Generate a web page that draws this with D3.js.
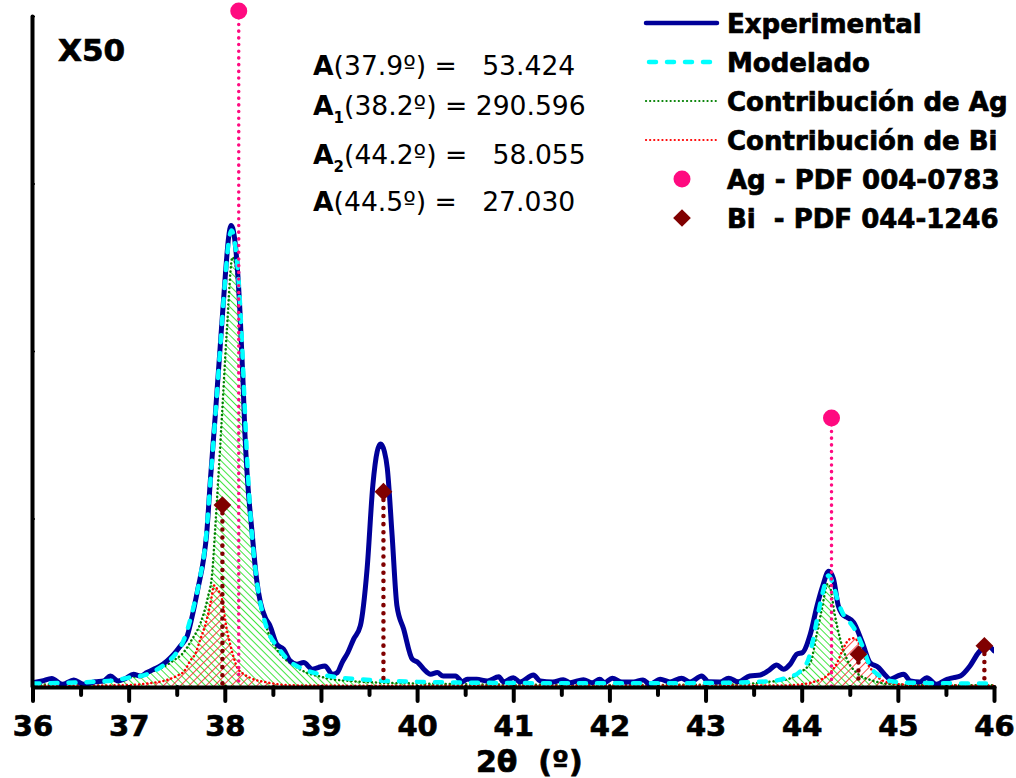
<!DOCTYPE html>
<html><head><meta charset="utf-8">
<script src="https://cdn.jsdelivr.net/npm/d3@7"></script>
<style>
html,body{margin:0;padding:0;background:#fff;}
svg{display:block;}
text{font-family:"DejaVu Sans",Verdana,sans-serif;}
.heavy{stroke:#000;stroke-width:0.7px;}
</style></head><body>
<svg id="chart" width="1016" height="778"></svg>
<script>
// ---- data (2theta in degrees, intensity in arbitrary units, axis 0..400) ----
const experimental = [[36.00,2],[36.10,3],[36.20,4.5],[36.31,1],[36.43,3.6],[36.53,1],[36.65,2.5],[36.74,3],[36.81,6],[36.89,3],[36.97,4.5],[37.05,7],[37.12,6],[37.19,8],[37.26,10],[37.33,12],[37.40,15],[37.47,19],[37.54,24],[37.61,30],[37.67,44],[37.72,58],[37.78,76],[37.81,90],[37.85,123],[37.90,161],[37.95,201],[38.00,241],[38.04,268],[38.065,275],[38.10,268],[38.13,250],[38.16,221],[38.19,181],[38.21,150],[38.24,120],[38.28,94],[38.33,64],[38.37,50],[38.42,41],[38.47,36],[38.54,25],[38.61,22],[38.68,15],[38.75,13],[38.82,14],[38.91,10],[38.97,11],[39.04,12],[39.12,7],[39.17,8],[39.22,14],[39.28,20],[39.34,28],[39.41,36],[39.48,70],[39.54,120],[39.585,140],[39.62,144.5],[39.66,140],[39.69,130],[39.74,90],[39.79,48],[39.86,34],[39.95,16],[40.01,14],[40.07,10],[40.14,7],[40.21,8],[40.27,6],[40.34,6],[40.40,6],[40.47,2.5],[40.52,4],[40.62,4],[40.73,3],[40.85,5.5],[40.90,2.4],[41.00,5],[41.07,2.4],[41.21,6.6],[41.28,3],[41.41,2.4],[41.52,3.8],[41.59,2],[41.73,3.8],[41.82,2],[41.90,4],[41.95,2],[42.03,4.7],[42.13,2.4],[42.25,2.4],[42.35,3.6],[42.42,1],[42.53,4],[42.63,2.4],[42.75,4.7],[42.84,2.4],[42.96,6],[43.03,2.5],[43.15,2.4],[43.24,4.7],[43.34,2.5],[43.46,6],[43.57,6.6],[43.65,9],[43.74,12.5],[43.81,10],[43.88,13],[43.95,19],[44.01,20],[44.09,31],[44.16,48],[44.22,60],[44.28,68.5],[44.33,64],[44.38,48],[44.42,43],[44.47,41],[44.54,38],[44.63,26],[44.71,14],[44.80,11],[44.86,7],[44.92,4],[45.00,6],[45.06,7],[45.13,3],[45.23,2.4],[45.30,5],[45.40,1],[45.51,4],[45.58,5],[45.65,6],[45.75,12],[45.84,20],[45.93,24],[46.00,21]];

const modelado = [[36.0,1.5],[36.3,1.8],[36.6,2.4],[36.85,3.3],[37.0,5],[37.19,7],[37.3,10],[37.4,14],[37.5,20],[37.57,27],[37.67,46],[37.74,64],[37.8,86],[37.85,122],[37.9,160],[37.95,200],[38.0,240],[38.04,265],[38.07,272],[38.1,266],[38.14,245],[38.18,203],[38.22,150],[38.26,108],[38.33,64],[38.4,42],[38.47,30],[38.54,24],[38.65,16],[38.82,10],[38.99,7],[39.2,5],[39.4,4],[39.6,3.2],[39.8,2.8],[40.0,2.5],[40.5,2],[41.0,1.8],[41.5,1.6],[42.0,1.6],[42.5,1.6],[43.0,1.8],[43.3,2],[43.5,2.4],[43.7,3],[43.85,5],[43.97,8],[44.07,16],[44.12,28],[44.16,40],[44.22,56],[44.28,66],[44.33,60],[44.38,50],[44.44,42],[44.5,38],[44.56,33],[44.63,24],[44.71,12],[44.81,6],[44.92,3],[45.1,2],[45.5,1.6],[46.0,1.5]];

const contribAg = [[36.0,0.8],[36.3,1.2],[36.6,2],[36.85,3],[37.02,5],[37.2,8],[37.35,11],[37.46,15],[37.57,20],[37.65,27],[37.75,38],[37.82,52],[37.87,68],[37.90,94],[37.93,122],[37.97,161],[38.02,211],[38.08,256],[38.11,252],[38.14,231],[38.18,181],[38.21,141],[38.25,114],[38.28,92],[38.32,72],[38.37,50],[38.42,38],[38.47,29],[38.54,22],[38.61,17],[38.7,13],[38.78,10],[38.85,8],[39.0,5.5],[39.1,4.2],[39.3,3],[39.6,2],[40.0,1.5],[40.5,1],[41.0,0.8],[42.0,0.6],[43.0,0.8],[43.36,1],[43.64,2.4],[43.85,4],[43.98,8],[44.09,14],[44.16,32],[44.21,46],[44.27,61],[44.30,58],[44.34,44],[44.40,28],[44.47,16],[44.57,8],[44.75,3],[44.95,1],[45.3,0.6],[46.0,0.4]];

const contribBi = [[36.0,0.1],[36.5,0.2],[37.02,0.6],[37.2,1.5],[37.36,3],[37.50,6],[37.58,9],[37.64,15],[37.70,20],[37.74,27],[37.80,37],[37.85,49],[37.89,60],[37.92,58],[37.97,52],[38.02,34],[38.06,24],[38.13,11],[38.2,7],[38.26,5],[38.45,2],[38.7,0.4],[39.5,0.2],[43.8,0.3],[44.0,1],[44.12,2.4],[44.26,6],[44.37,14],[44.43,22],[44.5,28],[44.55,28.5],[44.59,26],[44.66,16],[44.75,8],[44.85,3],[45.02,1],[45.3,0.3],[46.0,0.2]];

const agRefTheta = [38.145, 44.31];
const agRefIntensity = [403, 160];
const biRefTheta = [37.975, 39.65, 44.59, 45.9];
const biRefIntensity = [108, 116, 19, 24];

const xMajorTicks = [36,37,38,39,40,41,42,43,44,45,46];
const xMinorTicks = [36.5,37.5,38.5,39.5,40.5,41.5,42.5,43.5,44.5,45.5];
const yTicks = [0,100,200,300,400];

const legendLabels = ["Experimental","Modelado","Contribución de Ag","Contribución de Bi","Ag - PDF 004-0783","Bi  - PDF 044-1246"];
const areaLabels = [
  {sub:"", angle:"37.9º", value:"  53.424"},
  {sub:"1", angle:"38.2º", value:"290.596"},
  {sub:"2", angle:"44.2º", value:"  58.055"},
  {sub:"", angle:"44.5º", value:"  27.030"}
];

// ---- styles ----
const C = {exp:"#000099", model:"#00ffff", ag:"#008000", agFill:"#10e010", bi:"#ff0000", biFill:"#ff1a1a", agRef:"#ff0a80", biRef:"#800000"};

const svg = d3.select("#chart");
const x = d3.scaleLinear().domain([36,46]).range([32.5,994]);
const y = d3.scaleLinear().domain([0,400]).range([686,16]);

const defs = svg.append("defs");
function hatch(id, color, angle, gap){
  const p = defs.append("pattern").attr("id",id).attr("patternUnits","userSpaceOnUse")
    .attr("width",gap).attr("height",gap).attr("patternTransform",`rotate(${angle})`);
  p.append("line").attr("x1",0).attr("y1",0).attr("x2",0).attr("y2",gap)
    .attr("stroke",color).attr("stroke-width",1.6);
}
hatch("hAg", C.agFill, -45, 5);
hatch("hBi", C.biFill, 45, 6);
defs.append("clipPath").attr("id","plotclip").append("rect")
  .attr("x",x(36)).attr("y",0).attr("width",x(46)-x(36)).attr("height",y(0)+1);

const line = d3.line().x(d=>x(d[0])).y(d=>y(d[1])).curve(d3.curveMonotoneX);
const area = d3.area().x(d=>x(d[0])).y0(y(0)).y1(d=>y(d[1])).curve(d3.curveMonotoneX);

const plot = svg.append("g").attr("clip-path","url(#plotclip)");
plot.append("path").datum(contribAg).attr("d",area).attr("fill","url(#hAg)");
plot.append("path").datum(contribBi).attr("d",area).attr("fill","url(#hBi)");
plot.append("path").datum(contribAg).attr("d",line).attr("fill","none")
  .attr("stroke",C.ag).attr("stroke-width",2.5).attr("stroke-dasharray","0.1 4").attr("stroke-linecap","round");
plot.append("path").datum(contribBi).attr("d",line).attr("fill","none")
  .attr("stroke",C.bi).attr("stroke-width",2.5).attr("stroke-dasharray","0.1 4").attr("stroke-linecap","round");
plot.append("path").datum(experimental).attr("d",line).attr("fill","none")
  .attr("stroke",C.exp).attr("stroke-width",5).attr("stroke-linejoin","round").attr("stroke-linecap","round");
plot.append("path").datum(modelado).attr("d",line).attr("fill","none")
  .attr("stroke",C.model).attr("stroke-width",4.5).attr("stroke-dasharray","7 11").attr("stroke-linecap","round");

// drop lines + markers
const markG = svg.append("g");
agRefTheta.forEach((t,i)=>{
  markG.append("line").attr("x1",x(t)).attr("x2",x(t)).attr("y1",y(agRefIntensity[i])).attr("y2",y(0))
    .attr("stroke",C.agRef).attr("stroke-width",3.5).attr("stroke-dasharray","0.1 6.6").attr("stroke-linecap","round");
});
biRefTheta.forEach((t,i)=>{
  markG.append("line").attr("x1",x(t)).attr("x2",x(t)).attr("y1",y(biRefIntensity[i])).attr("y2",y(0))
    .attr("stroke",C.biRef).attr("stroke-width",4.5).attr("stroke-dasharray","0.1 8").attr("stroke-linecap","round");
});
const diamond = d3.symbol().type(d3.symbolDiamond2).size(200);
agRefTheta.forEach((t,i)=>{
  markG.append("circle").attr("cx",x(t)).attr("cy",y(agRefIntensity[i])).attr("r",8.5).attr("fill",C.agRef);
});
biRefTheta.forEach((t,i)=>{
  markG.append("path").attr("d",diamond).attr("transform",`translate(${x(t)},${y(biRefIntensity[i])})`).attr("fill",C.biRef);
});

// axes
const xAxisMinor = d3.axisBottom(x).tickValues(xMinorTicks).tickSize(8).tickFormat("");
const xAxis = d3.axisBottom(x).tickValues(xMajorTicks).tickSize(14).tickSizeOuter(0).tickPadding(14).tickFormat(d3.format("d"));
const gxm = svg.append("g").attr("transform",`translate(0,${y(0)+1})`).call(xAxisMinor);
gxm.select(".domain").remove();
gxm.selectAll(".tick line").attr("stroke","#000").attr("stroke-width",4).attr("stroke-linecap","round");
const gx = svg.append("g").attr("transform",`translate(0,${y(0)+1})`).call(xAxis);
gx.select(".domain").attr("stroke","#000").attr("stroke-width",4).attr("stroke-linecap","round");
gx.selectAll(".tick line").attr("stroke","#000").attr("stroke-width",4).attr("stroke-linecap","round");
gx.selectAll(".tick text").attr("class","heavy").attr("font-family","DejaVu Sans").attr("font-weight","bold").attr("font-size",29).attr("fill","#000");

const yAxis = d3.axisLeft(y).tickValues(yTicks).tickSize(-3).tickSizeOuter(0).tickFormat("");
const gy = svg.append("g").attr("transform",`translate(${x(36)-0.5},0)`).call(yAxis);
gy.select(".domain").attr("stroke","#000").attr("stroke-width",4).attr("stroke-linecap","round");
gy.selectAll(".tick line").attr("stroke","#000").attr("stroke-width",1.5);

svg.append("text").attr("class","heavy").attr("x",476).attr("y",772).attr("font-weight","bold").attr("font-size",30)
  .style("white-space","pre").text("2θ  (º)");

svg.append("text").attr("class","heavy").attr("x",58).attr("y",61).attr("font-weight","bold").attr("font-size",31).text("X50");

// area annotations
const annBase = [75,115,164,211];
areaLabels.forEach((a,i)=>{
  const t = svg.append("text").attr("x",313).attr("y",annBase[i]).attr("font-size",26.6)
    .attr("xml:space","preserve").style("white-space","pre");
  t.append("tspan").attr("font-weight","bold").text("A");
  if(a.sub){
    t.append("tspan").attr("font-weight","bold").attr("font-size",15).attr("dy",8).text(a.sub);
    t.append("tspan").attr("dy",-8).text(`(${a.angle}) = ${a.value}`);
  } else {
    t.append("tspan").text(`(${a.angle}) = ${a.value}`);
  }
});

// legend
const legY = [23,62,101,140,179,218];
const leg = svg.append("g");
legendLabels.forEach((lab,i)=>{
  leg.append("text").attr("class","heavy").attr("x",727).attr("y",legY[i]+10).attr("font-weight","bold").attr("font-size",26).style("white-space","pre").text(lab);
});
leg.append("line").attr("x1",646).attr("x2",717).attr("y1",legY[0]).attr("y2",legY[0])
  .attr("stroke",C.exp).attr("stroke-width",4.5).attr("stroke-linecap","round");
leg.append("line").attr("x1",649).attr("x2",717).attr("y1",legY[1]).attr("y2",legY[1])
  .attr("stroke",C.model).attr("stroke-width",4.5).attr("stroke-dasharray","7 11").attr("stroke-linecap","round");
leg.append("line").attr("x1",646).attr("x2",717).attr("y1",legY[2]).attr("y2",legY[2])
  .attr("stroke",C.ag).attr("stroke-width",2.2).attr("stroke-dasharray","0.1 4").attr("stroke-linecap","round");
leg.append("line").attr("x1",646).attr("x2",717).attr("y1",legY[3]).attr("y2",legY[3])
  .attr("stroke",C.bi).attr("stroke-width",2.2).attr("stroke-dasharray","0.1 4").attr("stroke-linecap","round");
leg.append("circle").attr("cx",682).attr("cy",legY[4]).attr("r",8.5).attr("fill",C.agRef);
leg.append("path").attr("d",diamond).attr("transform",`translate(682,${legY[5]})`).attr("fill",C.biRef);
</script>
</body></html>
